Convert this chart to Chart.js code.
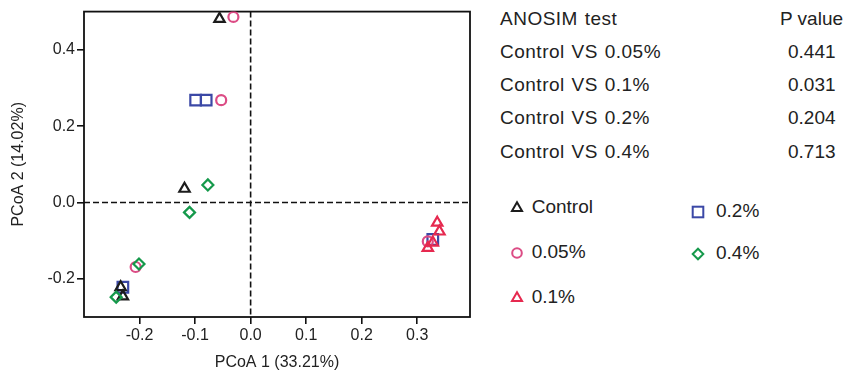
<!DOCTYPE html>
<html><head><meta charset="utf-8">
<script src="https://cdn.jsdelivr.net/npm/chart.js@4/dist/chart.umd.min.js"></script>
<style>
html,body{margin:0;padding:0;background:#fff;}
#wrap{position:relative;width:862px;height:375px;font-family:"Liberation Sans",Arial,sans-serif;color:#222;}
#c{position:absolute;left:0;top:0;}
.t{position:absolute;font-size:19px;line-height:20px;white-space:nowrap;}
.tw{letter-spacing:0.5px;word-spacing:1px;}
.m{position:absolute;}
</style></head><body>
<div id="wrap"><canvas id="c" width="480" height="375"></canvas></div>
<script>
// ---- data ----
const groups = ['Control', '0.05%', '0.1%', '0.2%', '0.4%'];
const controlX = [-0.056, -0.119, -0.234, -0.230];
const controlY = [0.481, 0.036, -0.222, -0.246];
const p005X = [-0.031, -0.053, -0.207, 0.319];
const p005Y = [0.486, 0.268, -0.169, -0.102];
const p01X = [0.336, 0.340, 0.328, 0.319];
const p01Y = [-0.053, -0.076, -0.105, -0.119];
const p02X = [-0.099, -0.080, -0.230, 0.328];
const p02Y = [0.268, 0.268, -0.222, -0.097];
const p04X = [-0.077, -0.110, -0.201, -0.242];
const p04Y = [0.046, -0.026, -0.161, -0.248];
const xTicks = [-0.2, -0.1, 0.0, 0.1, 0.2, 0.3];
const yTicks = [-0.2, 0.0, 0.2, 0.4];
const comparisons = ['Control VS 0.05%', 'Control VS 0.1%', 'Control VS 0.2%', 'Control VS 0.4%'];
const pValues = ['0.441', '0.031', '0.204', '0.713'];

// ---- styles ----
const seriesX = [controlX, p005X, p01X, p02X, p04X];
const seriesY = [controlY, p005Y, p01Y, p02Y, p04Y];
const shapes = ['triangle', 'circle', 'triangle', 'rect', 'rectRot'];
const colors = ['#1c1c1c', '#dc4c85', '#e6294f', '#3b48a6', '#15994b'];
const radii = [6, 5, 6, 7.5, 5.5];
const drawOrder = [1, 3, 2, 4, 0];

const datasets = groups.map((g, i) => ({
  label: g,
  data: seriesX[i].map((x, k) => ({x: x, y: seriesY[i][k]})),
  pointStyle: shapes[i],
  pointRadius: radii[i],
  pointHoverRadius: radii[i],
  borderColor: colors[i],
  backgroundColor: 'rgba(0,0,0,0)',
  pointBorderWidth: 2.2,
  order: drawOrder[i]
}));

const framePlugin = {
  id: 'frame',
  beforeDatasetsDraw(chart) {
    const {ctx, chartArea: a, scales: {x, y}} = chart;
    ctx.save();
    ctx.strokeStyle = '#111';
    ctx.lineWidth = 1.6;
    ctx.setLineDash([6, 3]);
    const px = x.getPixelForValue(0), py = y.getPixelForValue(0);
    ctx.beginPath();
    ctx.moveTo(px, a.top); ctx.lineTo(px, a.bottom);
    ctx.moveTo(a.left, py); ctx.lineTo(a.right, py);
    ctx.stroke();
    ctx.setLineDash([]);
    ctx.lineWidth = 1.8;
    ctx.strokeRect(a.left, a.top, a.right - a.left, a.bottom - a.top);
    ctx.restore();
  }
};

const tickFont = {family: '"Liberation Sans", Arial, sans-serif', size: 16};
new Chart(document.getElementById('c'), {
  type: 'scatter',
  data: {datasets},
  options: {
    responsive: false,
    animation: false,
    events: [],
    layout: {padding: {left: 0, top: 11, right: 10, bottom: 0}},
    plugins: {legend: {display: false}, tooltip: {enabled: false}},
    scales: {
      x: {
        type: 'linear', min: -0.3, max: 0.395,
        afterBuildTicks: s => { s.ticks = xTicks.map(v => ({value: v})); },
        afterFit: s => { s.height = 58; },
        ticks: {font: tickFont, color: '#222', padding: 2, callback: v => Number(v).toFixed(1)},
        grid: {display: true, drawOnChartArea: false, drawTicks: true, tickLength: 7, color: '#111', lineWidth: 1.6},
        border: {display: false},
        title: {display: true, text: 'PCoA 1 (33.21%)', font: tickFont, color: '#222', padding: {top: 0, bottom: 2.4}}
      },
      y: {
        type: 'linear', min: -0.3, max: 0.5,
        afterBuildTicks: s => { s.ticks = yTicks.map(v => ({value: v})); },
        afterFit: s => { s.width = 84; },
        ticks: {font: tickFont, color: '#222', padding: 2, callback: v => Number(v).toFixed(1)},
        grid: {display: true, drawOnChartArea: false, drawTicks: true, tickLength: 7, color: '#111', lineWidth: 1.6},
        border: {display: false},
        title: {display: true, text: 'PCoA 2 (14.02%)', font: tickFont, color: '#222', padding: {top: 9.4, bottom: 0}}
      }
    }
  },
  plugins: [framePlugin]
});

// ---- table & legend (HTML text) ----
const wrap = document.getElementById('wrap');
function addText(txt, left, centerY, cls) {
  const d = document.createElement('div');
  d.className = 't' + (cls ? ' ' + cls : '');
  d.textContent = txt;
  d.style.left = left + 'px';
  d.style.top = (centerY - 10) + 'px';
  wrap.appendChild(d);
}
addText('ANOSIM test', 500, 19, 'tw');
addText('P value', 780, 19);
const rowY = [51.7, 85, 118.3, 151.7];
comparisons.forEach((c, i) => { addText(c, 500, rowY[i], 'tw'); addText(pValues[i], 788, rowY[i]); });

function marker(shape, color, cx, cy) {
  const s = 20;
  const ns = 'http://www.w3.org/2000/svg';
  const svg = document.createElementNS(ns, 'svg');
  svg.setAttribute('width', s); svg.setAttribute('height', s);
  svg.setAttribute('class', 'm');
  svg.style.left = (cx - s / 2) + 'px'; svg.style.top = (cy - s / 2) + 'px';
  let el;
  const c = s / 2;
  if (shape === 'circle') {
    el = document.createElementNS(ns, 'circle');
    el.setAttribute('cx', c); el.setAttribute('cy', c); el.setAttribute('r', 4.8);
  } else if (shape === 'triangle') {
    el = document.createElementNS(ns, 'polygon');
    const r = 5.8;
    el.setAttribute('points', `${c},${c - r} ${c + r * 0.866},${c + r / 2} ${c - r * 0.866},${c + r / 2}`);
  } else if (shape === 'rect') {
    el = document.createElementNS(ns, 'rect');
    el.setAttribute('x', c - 5.3); el.setAttribute('y', c - 5.3);
    el.setAttribute('width', 10.6); el.setAttribute('height', 10.6);
  } else {
    el = document.createElementNS(ns, 'polygon');
    const r = 5.3;
    el.setAttribute('points', `${c},${c - r} ${c + r},${c} ${c},${c + r} ${c - r},${c}`);
  }
  el.setAttribute('fill', 'none'); el.setAttribute('stroke', color); el.setAttribute('stroke-width', 2);
  svg.appendChild(el);
  wrap.appendChild(svg);
}
const legendPos = [[516.7, 531.7, 207], [516.7, 531.7, 251.7], [516.7, 531.7, 296.7], [698, 716, 211], [698, 716, 253.3]];
groups.forEach((g, i) => {
  const [mx, tx, cy] = legendPos[i];
  marker(shapes[i], colors[i], mx, cy + 1);
  addText(g, tx, cy);
});
</script>
</body></html>
